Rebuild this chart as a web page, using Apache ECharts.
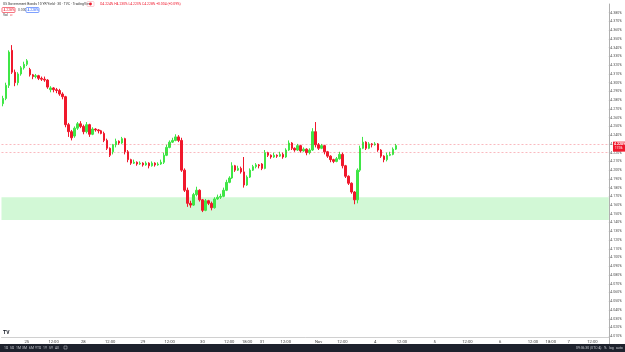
<!DOCTYPE html>
<html><head><meta charset="utf-8">
<script src="https://cdn.jsdelivr.net/npm/echarts@6/dist/echarts.min.js"></script>
<style>html,body{margin:0;padding:0;background:#fff}#c{width:625px;height:352px}</style>
</head><body><div id="c"></div>
<script>
const opens=[4.276,4.282,4.297,4.337,4.312,4.300,4.310,4.317,4.321,4.315,
4.309,4.307,4.308,4.305,4.304,4.303,4.292,4.294,4.292,4.291,
4.287,4.284,4.252,4.244,4.239,4.248,4.253,4.250,4.244,4.252,
4.241,4.247,4.246,4.245,4.242,4.234,4.225,4.221,4.229,4.233,
4.231,4.236,4.221,4.212,4.208,4.209,4.207,4.208,4.206,4.208,
4.205,4.208,4.206,4.207,4.209,4.217,4.226,4.232,4.234,4.238,
4.234,4.200,4.177,4.162,4.160,4.172,4.177,4.166,4.154,4.165,
4.162,4.157,4.167,4.169,4.170,4.177,4.186,4.191,4.205,4.200,
4.202,4.198,4.183,4.192,4.200,4.204,4.206,4.207,4.202,4.220,
4.217,4.215,4.217,4.216,4.218,4.215,4.223,4.231,4.225,4.223,
4.228,4.222,4.224,4.220,4.223,4.244,4.229,4.225,4.228,4.221,
4.216,4.212,4.210,4.213,4.218,4.205,4.193,4.185,4.175,4.166,
4.200,4.225,4.232,4.225,4.230,4.229,4.230,4.223,4.216,4.212,
4.217,4.218,4.224];
const closes=[4.282,4.297,4.335,4.312,4.300,4.310,4.317,4.321,4.325,4.309,
4.307,4.308,4.305,4.304,4.303,4.295,4.294,4.292,4.291,4.287,
4.284,4.252,4.244,4.237,4.248,4.253,4.250,4.244,4.252,4.241,
4.247,4.246,4.245,4.242,4.234,4.225,4.217,4.229,4.233,4.231,
4.236,4.221,4.212,4.208,4.209,4.207,4.208,4.206,4.208,4.205,
4.208,4.206,4.207,4.209,4.217,4.226,4.232,4.234,4.238,4.234,
4.200,4.177,4.162,4.160,4.172,4.177,4.166,4.154,4.165,4.162,
4.157,4.167,4.169,4.170,4.177,4.186,4.191,4.205,4.200,4.202,
4.198,4.183,4.192,4.200,4.204,4.206,4.205,4.202,4.220,4.217,
4.215,4.217,4.216,4.218,4.215,4.223,4.231,4.225,4.223,4.228,
4.222,4.224,4.220,4.223,4.244,4.229,4.225,4.228,4.221,4.216,
4.212,4.210,4.213,4.218,4.205,4.193,4.185,4.175,4.166,4.200,
4.225,4.232,4.225,4.230,4.229,4.230,4.223,4.216,4.212,4.217,
4.218,4.224,4.228];
const highs=[4.285,4.300,4.337,4.343,4.315,4.312,4.319,4.324,4.327,4.317,
4.310,4.310,4.309,4.307,4.307,4.304,4.296,4.295,4.294,4.293,
4.289,4.285,4.254,4.246,4.250,4.255,4.256,4.252,4.255,4.253,
4.249,4.248,4.247,4.246,4.244,4.236,4.226,4.230,4.236,4.234,
4.238,4.237,4.223,4.213,4.212,4.210,4.210,4.209,4.210,4.209,
4.210,4.209,4.209,4.212,4.220,4.229,4.234,4.237,4.241,4.240,
4.237,4.202,4.180,4.165,4.174,4.181,4.178,4.167,4.167,4.166,
4.164,4.169,4.172,4.173,4.180,4.189,4.193,4.209,4.206,4.205,
4.204,4.215,4.194,4.202,4.206,4.208,4.207,4.208,4.223,4.221,
4.218,4.220,4.218,4.221,4.220,4.225,4.234,4.232,4.226,4.230,
4.229,4.226,4.225,4.225,4.248,4.255,4.231,4.230,4.229,4.222,
4.217,4.213,4.215,4.221,4.220,4.206,4.194,4.186,4.176,4.202,
4.228,4.238,4.233,4.232,4.231,4.232,4.231,4.224,4.217,4.220,
4.221,4.226,4.230];
const lows=[4.273,4.280,4.294,4.310,4.296,4.297,4.308,4.315,4.319,4.307,
4.304,4.305,4.303,4.302,4.301,4.293,4.289,4.289,4.288,4.285,
4.281,4.249,4.238,4.234,4.237,4.246,4.248,4.241,4.242,4.238,
4.240,4.244,4.242,4.241,4.232,4.223,4.215,4.218,4.226,4.229,
4.230,4.218,4.209,4.206,4.207,4.205,4.206,4.204,4.205,4.202,
4.204,4.204,4.205,4.206,4.207,4.216,4.225,4.231,4.233,4.232,
4.198,4.175,4.158,4.157,4.159,4.170,4.164,4.152,4.153,4.160,
4.154,4.156,4.166,4.167,4.169,4.176,4.185,4.190,4.198,4.199,
4.196,4.180,4.182,4.191,4.199,4.202,4.202,4.200,4.201,4.215,
4.213,4.214,4.214,4.215,4.213,4.214,4.222,4.223,4.221,4.222,
4.220,4.221,4.217,4.218,4.222,4.226,4.223,4.224,4.218,4.214,
4.209,4.208,4.209,4.212,4.202,4.191,4.183,4.173,4.161,4.162,
4.198,4.224,4.223,4.224,4.226,4.228,4.221,4.214,4.209,4.210,
4.216,4.217,4.223];
const slotCount=204;
const tickSlots=[8,17,27,36,47,56,67,76,82,87,95,106,114,125,134,145,156,167,178,184,190,198];
const tickLabels=['25','12:00','28','12:00','29','12:00','30','12:00','18:00','31','12:00','Nov','12:00','4','12:00','5','12:00','6','12:00','18:00','7','12:00'];
const zoneLow=4.143, zoneHigh=4.169;
const refLines=[4.229,4.223];
const yMin=4.00, yMax=4.39, yStep=0.01;
const titleText='US Government Bonds 10 YR Yield · 30 · TVC · TradingView';
const ohlcText='O4.224% H4.230% L4.223% C4.228% +0.004 (+0.09%)';
const rangeButtons=['1D','5D','1M','3M','6M','YTD','1Y','5Y','All'];

const UP='#3fe646', DOWN='#f0182c';
const cats=[]; const labelMap={};
for(let i=0;i<slotCount;i++) cats.push(String(i));
tickSlots.forEach((s,k)=>{labelMap[s]=tickLabels[k];});
const candles=closes.map((c,i)=>[opens[i],c,lows[i],highs[i]]);
const FONT='Roboto, Liberation Sans, sans-serif';

const chart=echarts.init(document.getElementById('c'),null,{renderer:'canvas'});
const option={
  animation:false,
  backgroundColor:'#ffffff',
  grid:{left:0,right:12,top:4,bottom:7,containLabel:false},
  xAxis:{type:'category',data:cats,boundaryGap:true,offset:-8,
    axisLine:{show:true,lineStyle:{color:'#d0d0d0',width:1}},
    axisTick:{show:false},splitLine:{show:false},
    axisLabel:{interval:0,fontSize:4.2,color:'#444',margin:3,fontFamily:FONT,
      formatter:(v,idx)=>labelMap[idx]||''}},
  yAxis:{type:'value',position:'right',min:yMin,max:yMax,interval:yStep,
    axisLine:{show:true,lineStyle:{color:'#b0b0b0',width:1}},
    axisTick:{show:true,length:1.5,lineStyle:{color:'#b0b0b0'}},
    splitLine:{show:false},
    axisLabel:{fontSize:3.6,color:'#555',margin:1.5,fontFamily:FONT,showMaxLabel:false,showMinLabel:false,
      formatter:v=>v.toFixed(3)+'%'}},
  series:[{
    type:'candlestick',data:candles,barWidth:2,
    itemStyle:{color:UP,color0:DOWN,borderColor:UP,borderColor0:DOWN,borderWidth:1},
    markArea:{silent:true,itemStyle:{color:'#d2f8d6'},data:[[{yAxis:zoneHigh},{yAxis:zoneLow}]]},
    markLine:{silent:true,symbol:'none',label:{show:false},
      lineStyle:{color:'rgba(240,24,44,0.3)',type:[2,2],width:1},
      data:refLines.map(v=>({yAxis:v}))}
  }]
};
chart.setOption(option);

function buildGraphics(){
  const last=closes[closes.length-1];
  const py=chart.convertToPixel({yAxisIndex:0},last);
  const g=[];
  g.push({type:'rect',z:50,shape:{x:613,y:py-4,width:12,height:10},style:{fill:'#f0182c'}});
  g.push({type:'text',z:51,x:614,y:py-3.5,style:{text:last.toFixed(3)+'%',fill:'#fff',font:'bold 3.5px '+FONT}});
  g.push({type:'text',z:51,x:615,y:py+1,style:{text:'17:06',fill:'#fff',font:'3px '+FONT}});
  g.push({type:'text',z:50,x:3,y:2.2,style:{text:titleText,fill:'#333',font:'3.4px '+FONT}});
  g.push({type:'rect',z:50,shape:{x:87,y:1.5,width:7,height:5,r:1},style:{fill:'none',stroke:'#f3a0a8',lineWidth:0.5}});
  g.push({type:'circle',z:50,shape:{cx:90.5,cy:4,r:1.4},style:{fill:'#f0182c'}});
  g.push({type:'text',z:50,x:100,y:2.2,style:{text:ohlcText,fill:'#f0182c',font:'3.4px '+FONT}});
  g.push({type:'rect',z:50,shape:{x:2,y:7.5,width:13,height:5,r:1},style:{fill:'#fff',stroke:'#f0182c',lineWidth:0.6}});
  g.push({type:'text',z:51,x:3.5,y:8.3,style:{text:last.toFixed(3)+'%',fill:'#f0182c',font:'3.4px '+FONT}});
  g.push({type:'text',z:50,x:18,y:8.3,style:{text:'0.000',fill:'#555',font:'3.4px '+FONT}});
  g.push({type:'rect',z:50,shape:{x:26,y:7.5,width:13,height:5,r:1},style:{fill:'#fff',stroke:'#2962ff',lineWidth:0.6}});
  g.push({type:'text',z:51,x:27.5,y:8.3,style:{text:last.toFixed(3)+'%',fill:'#2962ff',font:'3.4px '+FONT}});
  g.push({type:'text',z:50,x:3,y:13.5,style:{text:'Vol',fill:'#333',font:'3.4px '+FONT}});
  g.push({type:'text',z:50,x:10,y:13.5,style:{text:'∅',fill:'#f0182c',font:'3.4px '+FONT}});
  g.push({type:'text',z:50,x:3,y:330,style:{text:'TV',fill:'#131722',font:'bold 5px '+FONT}});
  g.push({type:'rect',z:100,shape:{x:0,y:344,width:625,height:8},style:{fill:'#1e222d'}});
  const bx=[4,10,16,22,29,35,43,49,55];
  rangeButtons.forEach((t,k)=>g.push({type:'text',z:101,x:bx[k],y:346.2,style:{text:t,fill:'#c9cbd1',font:'3.4px '+FONT}}));
  g.push({type:'rect',z:101,shape:{x:64,y:346,width:3,height:3},style:{fill:'none',stroke:'#c9cbd1',lineWidth:0.5}});
  g.push({type:'text',z:101,x:576,y:346.2,style:{text:'09:36:30 (UTC-4)',fill:'#c9cbd1',font:'3.4px '+FONT}});
  g.push({type:'text',z:101,x:604,y:346.2,style:{text:'%',fill:'#c9cbd1',font:'3.4px '+FONT}});
  g.push({type:'text',z:101,x:609,y:346.2,style:{text:'log',fill:'#c9cbd1',font:'3.4px '+FONT}});
  g.push({type:'text',z:101,x:616,y:346.2,style:{text:'auto',fill:'#c9cbd1',font:'3.4px '+FONT}});
  return g;
}
chart.setOption({graphic:buildGraphics()});
</script></body></html>
